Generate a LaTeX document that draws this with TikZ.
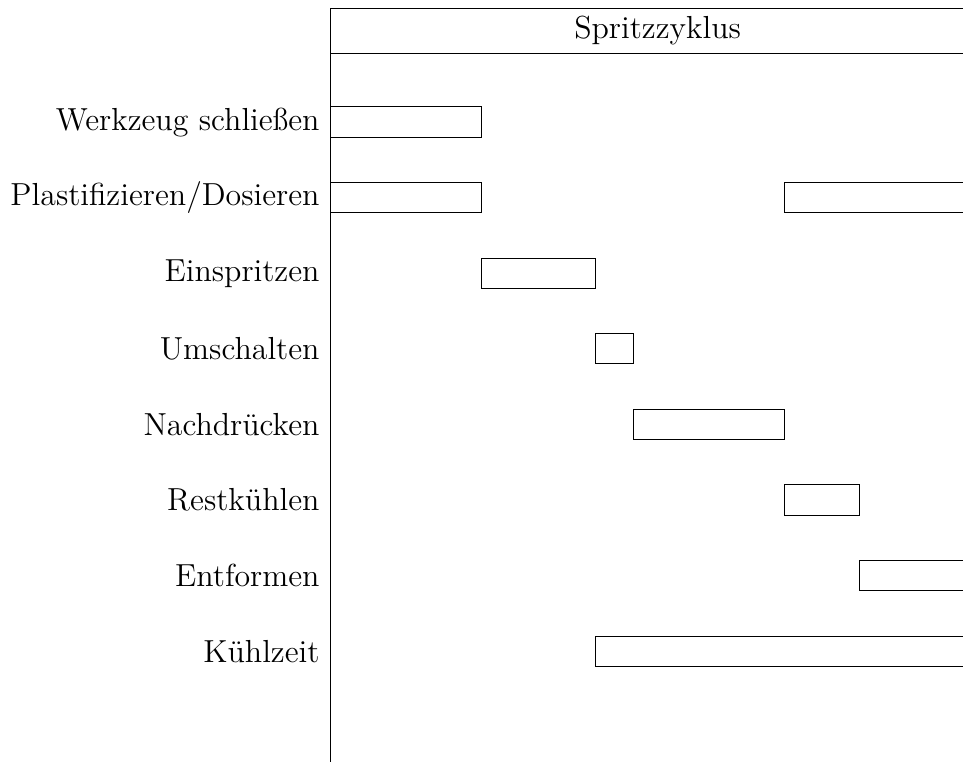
\documentclass[tikz,border=0pt]{standalone}
\begin{document}
\begin{tikzpicture}[x=0.5cm,y=0.5cm,
  lbl/.style={anchor=east,inner sep=4pt,font=\fontsize{12}{14.4}\selectfont},
  hdr/.style={font=\fontsize{12}{14.4}\selectfont,inner sep=0pt},
  bar/.style={draw,line width=0.4pt}]
\useasboundingbox (-8.75,0.23) rectangle (16.73,-19.93);
\clip (-8.75,0.23) rectangle (16.73,-19.93);
% header
\draw (0,-20.5) -- (0,0) -- (17.5,0);
\draw (0,-1.18) -- (17.5,-1.18);
\node[hdr] (head) at (8.65,-0.59) {Spritzzyklus};
% labels
\node[lbl] (l1) at (0,-3)  {Werkzeug schließen};
\node[lbl] (l2) at (0,-5)  {Plastifizieren/Dosieren};
\node[lbl] (l3) at (0,-7)  {Einspritzen};
\node[lbl] (l4) at (0,-9)  {Umschalten};
\node[lbl] (l5) at (0,-11) {Nachdrücken};
\node[lbl] (l6) at (0,-13) {Restkühlen};
\node[lbl] (l7) at (0,-15) {Entformen};
\node[lbl] (l8) at (0,-17) {Kühlzeit};
% bars
\draw[bar] (0,-2.6) rectangle (4,-3.4);
\draw[bar] (0,-4.6) rectangle (4,-5.4);
\draw[bar] (12,-4.6) rectangle (17.5,-5.4);
\draw[bar] (4,-6.6) rectangle (7,-7.4);
\draw[bar] (7,-8.6) rectangle (8,-9.4);
\draw[bar] (8,-10.6) rectangle (12,-11.4);
\draw[bar] (12,-12.6) rectangle (14,-13.4);
\draw[bar] (14,-14.6) rectangle (17.5,-15.4);
\draw[bar] (7,-16.6) rectangle (17.5,-17.4);
\end{tikzpicture}
\end{document}
